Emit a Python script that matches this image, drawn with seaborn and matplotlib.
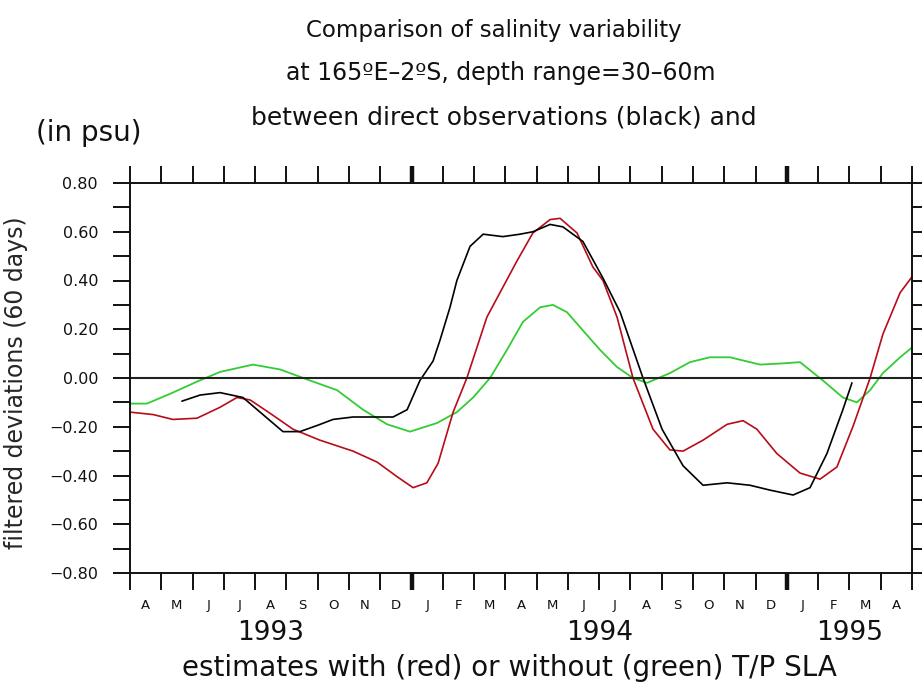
import pandas as pd
import matplotlib
matplotlib.use('Agg')
import matplotlib.pyplot as plt
import matplotlib.transforms as mtrans
import seaborn as sns

# x = months since 1 April 1993, y = salinity deviation (psu)
black_x = [1.66, 2.24, 2.88, 3.61, 4.25, 4.89, 5.43, 5.98, 6.49, 7.13, 8.41, 8.86,
           9.27, 9.69, 9.91, 10.23, 10.45, 10.87, 11.29, 11.92, 12.47, 12.88, 13.43,
           13.84, 14.48, 15.12, 15.67, 16.40, 17.01, 17.68, 18.32, 19.09, 19.82,
           20.46, 21.20, 21.74, 22.28, 22.79, 23.08]
black_y = [-0.095, -0.07, -0.06, -0.08, -0.15, -0.22, -0.22, -0.195, -0.17, -0.16,
           -0.16, -0.13, -0.01, 0.07, 0.155, 0.29, 0.40, 0.54, 0.59, 0.58, 0.59,
           0.60, 0.63, 0.62, 0.56, 0.41, 0.27, 0.0, -0.21, -0.36, -0.44, -0.43,
           -0.44, -0.46, -0.48, -0.45, -0.31, -0.13, -0.02]

red_x = [0.0, 0.74, 1.37, 2.14, 2.88, 3.42, 3.84, 4.48, 5.21, 6.07, 7.13, 7.90,
         8.54, 9.05, 9.49, 9.85, 10.33, 10.77, 11.41, 12.37, 12.88, 13.43, 13.75,
         14.29, 14.80, 15.12, 15.57, 16.08, 16.72, 17.26, 17.68, 18.32, 19.09,
         19.60, 20.04, 20.68, 21.42, 22.06, 22.60, 23.11, 23.66, 24.07, 24.62, 25.0]
red_y = [-0.14, -0.15, -0.17, -0.165, -0.12, -0.08, -0.09, -0.145, -0.21, -0.255,
         -0.30, -0.345, -0.405, -0.45, -0.43, -0.35, -0.14, 0.0, 0.25, 0.48, 0.595,
         0.65, 0.655, 0.595, 0.455, 0.40, 0.25, 0.0, -0.21, -0.295, -0.30, -0.255,
         -0.19, -0.175, -0.21, -0.31, -0.39, -0.415, -0.365, -0.20, 0.0, 0.18,
         0.35, 0.415]

green_x = [0.0, 0.54, 1.28, 2.14, 2.88, 3.93, 4.80, 5.75, 6.62, 7.45, 8.22, 8.95,
           9.81, 10.45, 10.97, 11.51, 12.05, 12.56, 13.11, 13.52, 13.97, 14.48,
           15.03, 15.57, 16.08, 16.53, 17.26, 17.90, 18.54, 19.18, 20.14, 20.88,
           21.42, 22.15, 22.79, 23.24, 23.66, 24.07, 24.62, 25.0]
green_y = [-0.105, -0.105, -0.065, -0.015, 0.025, 0.055, 0.035, -0.01, -0.05, -0.13,
           -0.19, -0.22, -0.185, -0.14, -0.08, 0.0, 0.115, 0.23, 0.29, 0.30, 0.27,
           0.195, 0.115, 0.045, 0.0, -0.02, 0.02, 0.065, 0.085, 0.085, 0.055, 0.06,
           0.065, -0.01, -0.08, -0.10, -0.05, 0.02, 0.085, 0.125]

month_labels = ['A', 'M', 'J', 'J', 'A', 'S', 'O', 'N', 'D',
                'J', 'F', 'M', 'A', 'M', 'J', 'J', 'A', 'S', 'O', 'N', 'D',
                'J', 'F', 'M', 'A']
years = ['1993', '1994', '1995']
year_pos = [4.5, 15.0, 23.0]
jan_ticks = [9, 21]
y_major = [-0.8, -0.6, -0.4, -0.2, 0.0, 0.2, 0.4, 0.6, 0.8]
y_minor = [-0.7, -0.5, -0.3, -0.1, 0.1, 0.3, 0.5, 0.7]

sns.set_style('ticks')
plt.rcParams['font.family'] = ['DejaVu Sans']
plt.rcParams['text.color'] = '#111111'

fig = plt.figure(figsize=(9.22, 6.88), dpi=100)
ax = fig.add_axes([130 / 922, 115 / 688, 782 / 922, 390 / 688])

sns.lineplot(x=green_x, y=green_y, color='#33cc33', lw=1.3, ax=ax, sort=False)
sns.lineplot(x=red_x, y=red_y, color='#b80c18', lw=1.2, ax=ax, sort=False)
sns.lineplot(x=black_x, y=black_y, color='black', lw=1.2, ax=ax, sort=False)
ax.axhline(0, color='#222222', lw=1.5)

ax.set_xlim(0, 25)
ax.set_ylim(-0.8, 0.8)
for s in ax.spines.values():
    s.set_visible(True)
    s.set_linewidth(1.4)
    s.set_color('#111111')

# y ticks: labelled every 0.2 on the left, minor every 0.1, right side unlabelled
ax.set_yticks(y_major)
ax.set_yticklabels([f'{v:.2f}'.replace('-', '\u2212') for v in y_major],
                   fontsize=11.5, color='#111111')
ax.set_yticks(y_minor, minor=True)
ax.tick_params(axis='y', which='both', direction='out', length=12, width=1.4,
               left=True, right=True, pad=11, color='#111111')

# x ticks at month boundaries, top and bottom
ax.set_xticks(range(0, 26))
ax.set_xticklabels([''] * 26)
ax.set_xticks([m + 0.5 for m in range(25)], minor=True)
ax.set_xticklabels(month_labels, minor=True, fontsize=9.5, color='#111111')
ax.tick_params(axis='x', which='major', direction='out', length=12, width=1.4,
               top=True, bottom=True, color='#111111')
ax.tick_params(axis='x', which='minor', length=0, pad=19)
for i in jan_ticks:
    t = ax.xaxis.get_major_ticks()[i]
    t.tick1line.set_markeredgewidth(3.2)
    t.tick2line.set_markeredgewidth(3.2)

trans = mtrans.blended_transform_factory(ax.transData, fig.transFigure)
for yr, pos in zip(years, year_pos):
    ax.text(pos, 1 - 633 / 688, yr, transform=trans, ha='center', va='center',
            fontsize=19)

ax.set_xlabel('')
ax.set_ylabel('filtered deviations (60 days)', fontsize=17)
ax.yaxis.set_label_coords(28 / 922, 1 - 383 / 688, transform=fig.transFigure)

fig.text(494 / 922, 1 - 30 / 688, 'Comparison of salinity variability',
         ha='center', va='center', fontsize=16.5)
fig.text(501 / 922, 1 - 73 / 688, 'at 165\u00baE\u20132\u00baS, depth range=30\u201360m',
         ha='center', va='center', fontsize=17)
fig.text(504 / 922, 1 - 117 / 688, 'between direct observations (black) and',
         ha='center', va='center', fontsize=18)
fig.text(89 / 922, 1 - 133 / 688, '(in psu)', ha='center', va='center', fontsize=20)
fig.text(509 / 922, 1 - 668 / 688, 'estimates with (red) or without (green) T/P SLA',
         ha='center', va='center', fontsize=20)

fig.savefig('out.png', dpi=100)
